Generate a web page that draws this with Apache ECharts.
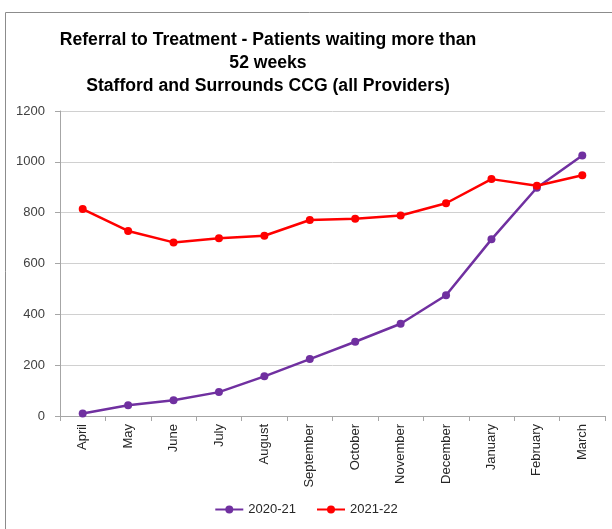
<!DOCTYPE html>
<html>
<head>
<meta charset="utf-8">
<script src="https://cdn.jsdelivr.net/npm/echarts@6/dist/echarts.min.js"></script>
<style>
  html, body { margin: 0; padding: 0; background: #fff; }
  #chart_content { width: 612px; height: 529px; }
</style>
</head>
<body>
<div id="chart_content"></div>
<script>
// months on the x axis
const months = ['April', 'May', 'June', 'July', 'August', 'September', 'October',
    'November', 'December', 'January', 'February', 'March'];
// patients waiting more than 52 weeks
const y2020_21 = [10, 42, 62, 94, 156, 224, 292, 363, 475, 695, 898, 1025];
const y2021_22 = [814, 728, 683, 699, 709, 771, 776, 789, 837, 932, 906, 947];

let chart = echarts.init(document.getElementById('chart_content'));
let option = {
    animation: false,
    textStyle: { fontFamily: 'Liberation Sans, Arial, sans-serif' },
    graphic: [
        {
            type: 'rect',
            shape: { x: 5.5, y: 12.5, width: 620, height: 530 },
            style: { fill: 'none', stroke: '#8c8c8c', lineWidth: 1 },
            silent: true
        }
    ],
    title: {
        text: 'Referral to Treatment - Patients waiting more than\n52 weeks\nStafford and Surrounds CCG (all Providers)',
        left: 263,
        top: 24,
        textAlign: 'center',
        textStyle: {
            color: '#000',
            fontSize: 17.6,
            fontWeight: 'bold',
            lineHeight: 23
        }
    },
    legend: {
        bottom: 8,
        left: 'center',
        itemWidth: 28,
        itemHeight: 10,
        itemGap: 20,
        textStyle: { color: '#262626', fontSize: 13 },
        data: ['2020-21', '2021-22']
    },
    grid: {
        left: 60,
        right: 7,
        top: 111,
        bottom: 113,
        containLabel: false
    },
    xAxis: {
        type: 'category',
        data: months,
        boundaryGap: true,
        axisLine: { lineStyle: { color: '#a6a6a6' } },
        axisTick: { show: true, alignWithLabel: false, length: 5, lineStyle: { color: '#a6a6a6' } },
        axisLabel: { rotate: 90, color: '#262626', fontSize: 13, margin: 8, interval: 0 }
    },
    yAxis: {
        type: 'value',
        min: 0,
        max: 1200,
        interval: 200,
        axisLine: { show: true, lineStyle: { color: '#a6a6a6' } },
        axisTick: { show: true, length: 5, lineStyle: { color: '#a6a6a6' } },
        axisLabel: { color: '#404040', fontSize: 13, margin: 15, formatter: function (v) { return String(v); } },
        splitLine: { lineStyle: { color: '#d0d0d0', width: 1 } }
    },
    series: [
        {
            name: '2020-21',
            type: 'line',
            data: y2020_21,
            symbol: 'circle',
            symbolSize: 8,
            itemStyle: { color: '#7030A0' },
            lineStyle: { color: '#7030A0', width: 2.5 }
        },
        {
            name: '2021-22',
            type: 'line',
            data: y2021_22,
            symbol: 'circle',
            symbolSize: 8,
            itemStyle: { color: '#FF0000' },
            lineStyle: { color: '#FF0000', width: 2.5 }
        }
    ]
};
chart.setOption(option);
</script>
</body>
</html>
